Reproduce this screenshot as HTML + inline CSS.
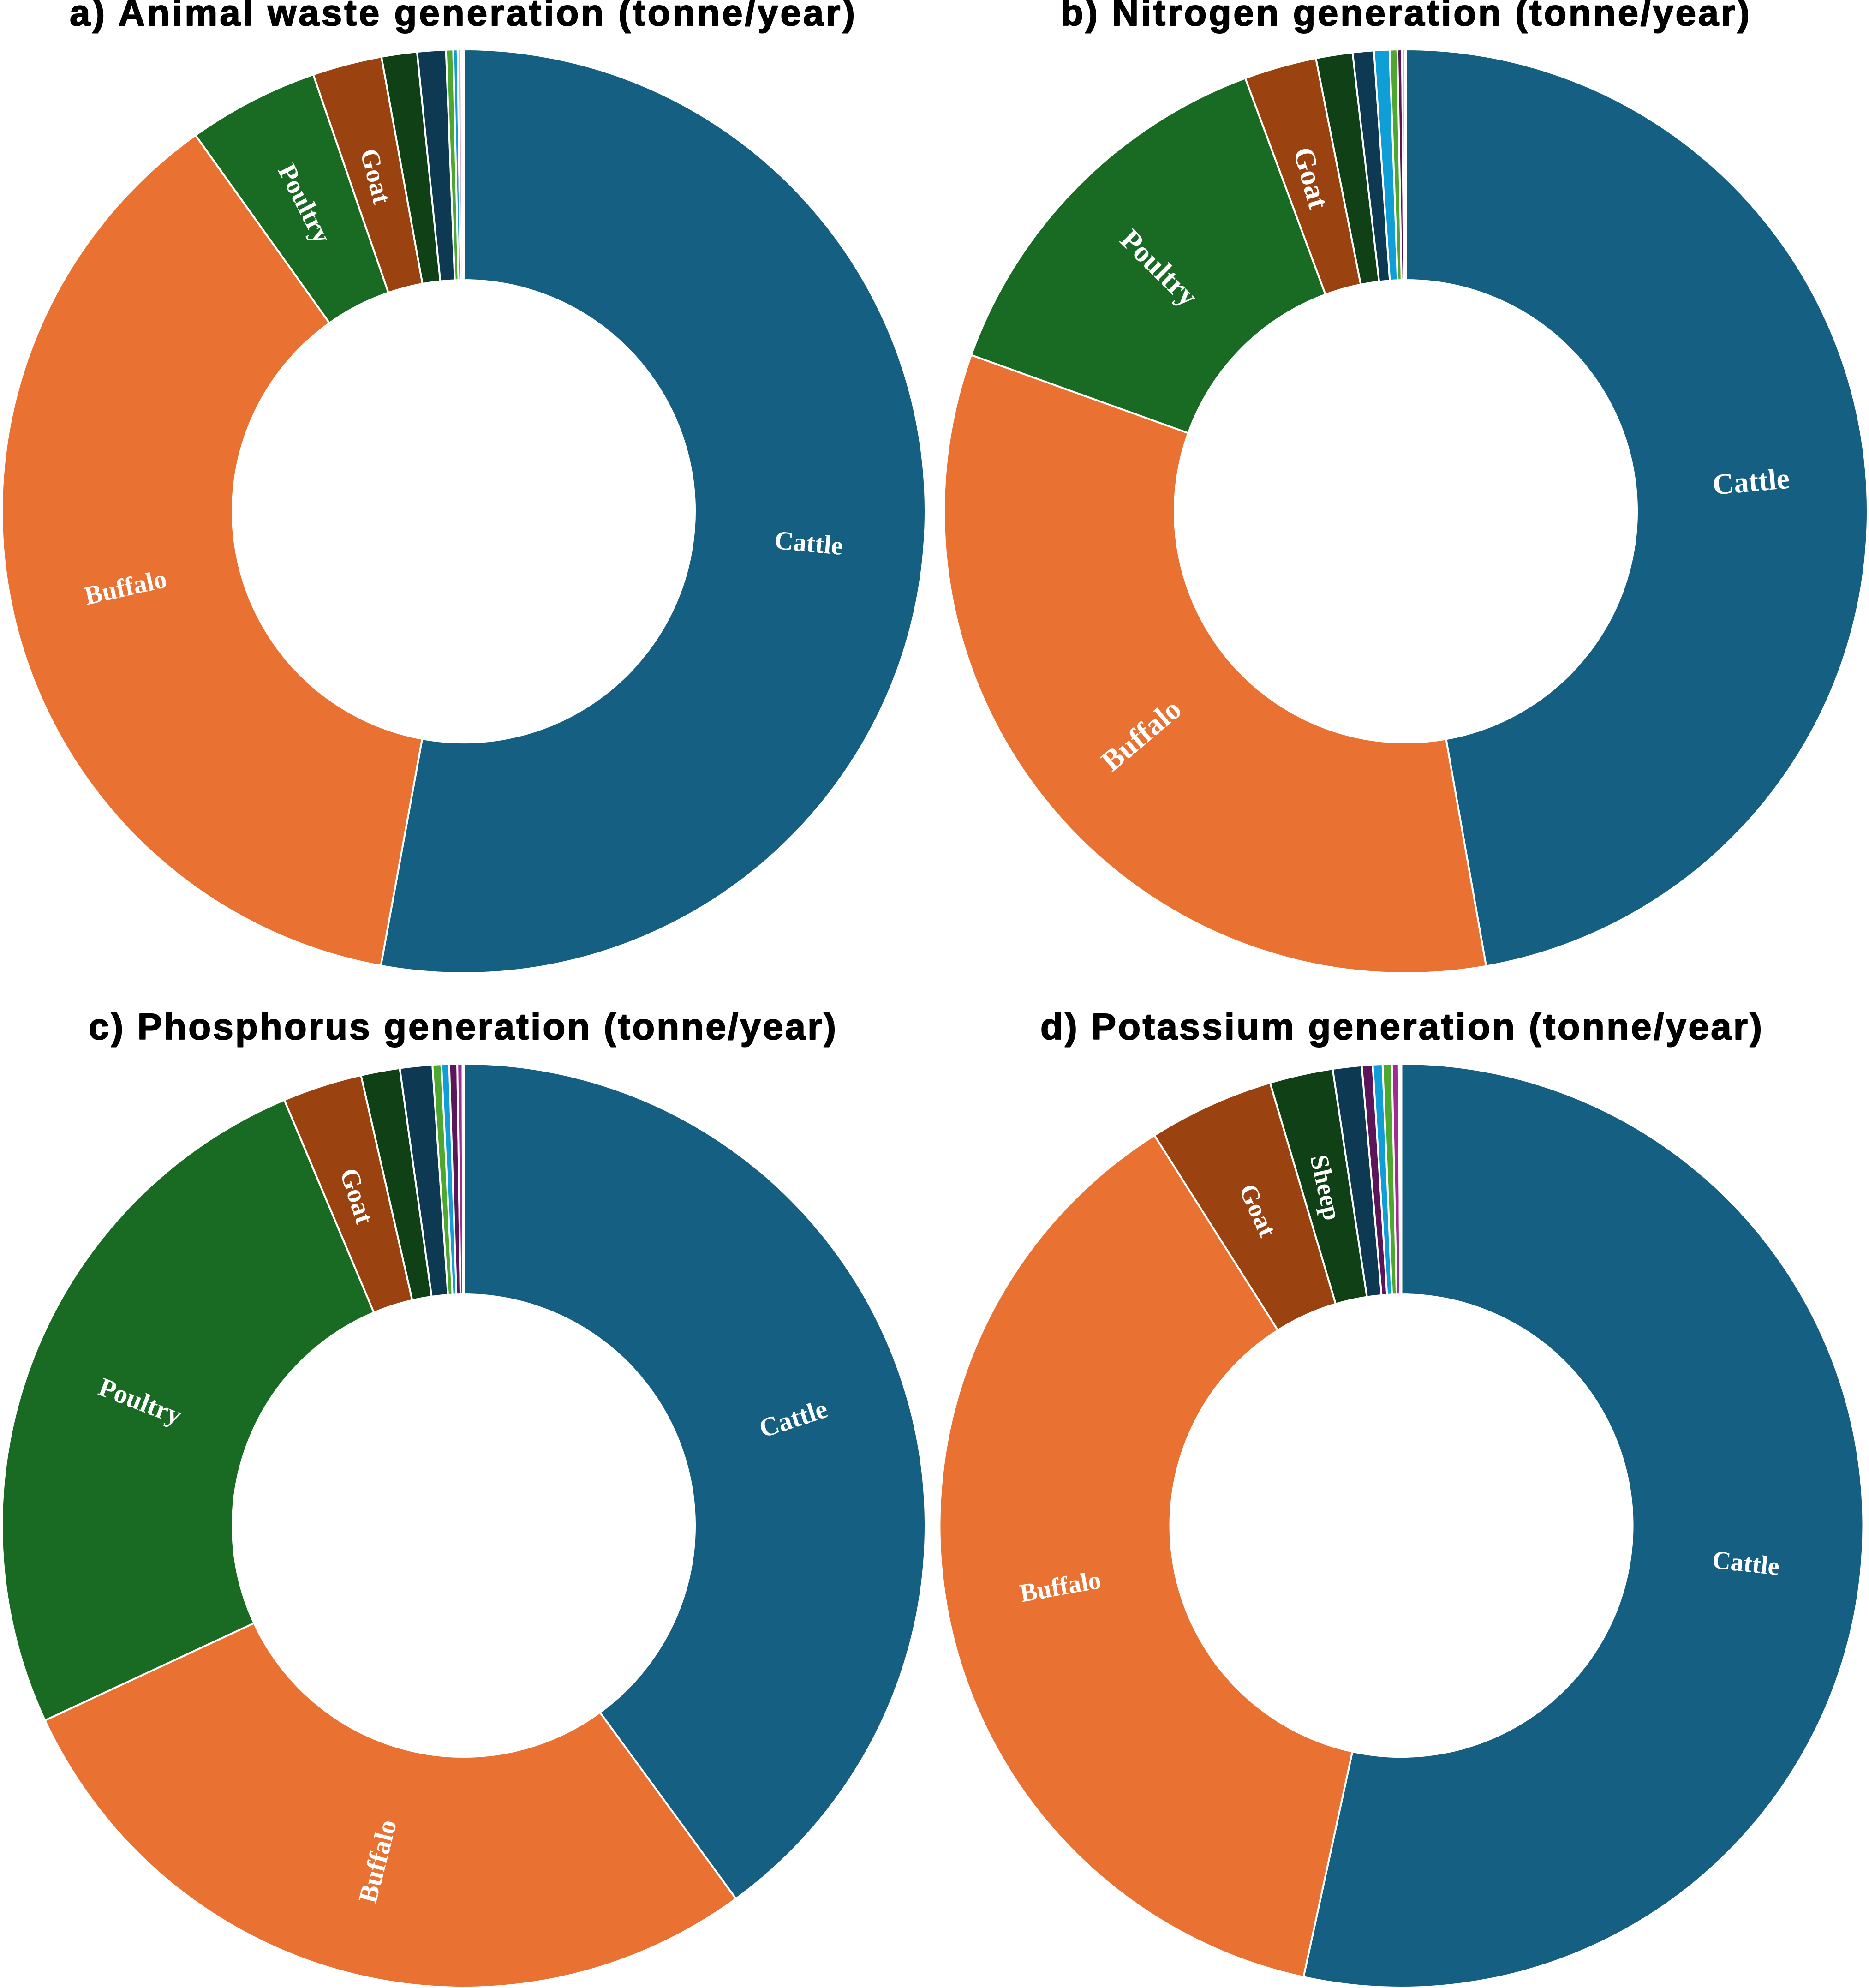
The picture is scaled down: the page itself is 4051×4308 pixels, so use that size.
<!DOCTYPE html>
<html lang="en">
<head>
<meta charset="utf-8">
<title>Livestock waste and nutrient generation</title>
<style>
html,body{margin:0;padding:0;background:#fff;}
body{width:4051px;height:4308px;overflow:hidden;}
svg{display:block;}
.chart-title{font-family:"Liberation Sans",Arial,sans-serif;font-weight:700;font-size:80px;fill:#000;stroke:#000;stroke-width:2px;stroke-linejoin:round;}
.slice-label{font-family:"Liberation Serif","Times New Roman",serif;font-weight:700;fill:#fff;text-anchor:middle;}
</style>
</head>
<body>
<svg id="figure" xmlns="http://www.w3.org/2000/svg" width="4051" height="4308" viewBox="0 0 4051 4308">
  <rect x="0" y="0" width="4051" height="4308" fill="#ffffff"/>
  <text class="chart-title" x="151" y="55" textLength="1702" lengthAdjust="spacing">a) Animal waste generation (tonne/year)</text>
  <text class="chart-title" x="2299" y="55" textLength="1493" lengthAdjust="spacing">b) Nitrogen generation (tonne/year)</text>
  <text class="chart-title" x="192" y="2252" textLength="1620" lengthAdjust="spacing">c) Phosphorus generation (tonne/year)</text>
  <text class="chart-title" x="2255" y="2252" textLength="1564" lengthAdjust="spacing">d) Potassium generation (tonne/year)</text>
</svg>
<script>
// Category order per panel (clockwise from 12 o'clock)
const categoriesA = ["Cattle","Buffalo","Poultry","Goat","Sheep","Pig","Horse","Donkey","Trace","Other"];
const categoriesB = ["Cattle","Buffalo","Poultry","Goat","Sheep","Pig","Donkey","Horse","Camel","Trace","Other"];
const categoriesC = ["Cattle","Buffalo","Poultry","Goat","Sheep","Pig","Horse","Donkey","Camel","Mule","Other"];
const categoriesD = ["Cattle","Buffalo","Goat","Sheep","Pig","Camel","Donkey","Horse","Mule","Other"];

// Share of total (%)
const valuesA = [52.87,37.27,4.58,2.43,1.24,1.00,0.25,0.15,0.13,0.08];
const valuesB = [47.22,33.28,13.86,2.53,1.28,0.74,0.54,0.27,0.16,0.10,0.03];
const valuesC = [39.97,28.11,25.58,2.78,1.36,1.13,0.31,0.27,0.28,0.18,0.04];
const valuesD = [53.40,37.62,4.39,2.21,1.01,0.38,0.34,0.32,0.24,0.09];

// Which slices carry a printed label
const labelledA = ["Cattle","Buffalo","Poultry","Goat"];
const labelledB = ["Cattle","Buffalo","Poultry","Goat"];
const labelledC = ["Cattle","Buffalo","Poultry","Goat"];
const labelledD = ["Cattle","Buffalo","Goat","Sheep"];

const categoryColors = {
  Cattle:"#156082", Buffalo:"#E97132", Poultry:"#196B24", Goat:"#9A4210",
  Sheep:"#104016", Pig:"#0D3A52", Horse:"#4EA72E", Donkey:"#0F9ED5",
  Camel:"#5C1558", Mule:"#A02B93", Trace:"#D9B0D6", Other:"#ffffff"
};

const SVG_NS = "http://www.w3.org/2000/svg";
const figure = document.getElementById("figure");
const OUTER_R = 1001;
const INNER_R = 501;
const LABEL_R = 751;

// Axis function: cumulative value -> angle in degrees clockwise from the top
function angleScale(values){
  const total = values.reduce(function(s,v){return s+v;},0);
  return function(cum){return cum/total*360;};
}
function polar(cx,cy,r,deg){
  const t = deg*Math.PI/180;
  return [cx+r*Math.sin(t), cy-r*Math.cos(t)];
}
function wedgePath(cx,cy,a0,a1){
  const large = (a1-a0)>180?1:0;
  const p0 = polar(cx,cy,OUTER_R,a0), p1 = polar(cx,cy,OUTER_R,a1);
  const p2 = polar(cx,cy,INNER_R,a1), p3 = polar(cx,cy,INNER_R,a0);
  return "M"+p0[0].toFixed(2)+" "+p0[1].toFixed(2)+
    "A"+OUTER_R+" "+OUTER_R+" 0 "+large+" 1 "+p1[0].toFixed(2)+" "+p1[1].toFixed(2)+
    "L"+p2[0].toFixed(2)+" "+p2[1].toFixed(2)+
    "A"+INNER_R+" "+INNER_R+" 0 "+large+" 0 "+p3[0].toFixed(2)+" "+p3[1].toFixed(2)+"Z";
}
function drawDonut(panel,cx,cy,fontSize,categories,values,labelled){
  const scale = angleScale(values);
  const group = document.createElementNS(SVG_NS,"g");
  
  
  figure.appendChild(group);
  let cum = 0;
  const labels = [];
  values.forEach(function(v,i){
    const a0 = scale(cum), a1 = scale(cum+v);
    cum += v;
    const name = categories[i];
    const path = document.createElementNS(SVG_NS,"path");
    path.setAttribute("d",wedgePath(cx,cy,a0,a1));
    path.setAttribute("fill",categoryColors[name]);
    path.setAttribute("stroke","#ffffff");
    path.setAttribute("stroke-width","4");
    path.setAttribute("stroke-linejoin","miter");
    
    
    group.appendChild(path);
    if(labelled.indexOf(name)>=0){
      labels.push({name:name,mid:(a0+a1)/2});
    }
  });
  labels.forEach(function(l){
    const p = polar(cx,cy,LABEL_R,l.mid);
    const rot = l.mid<=180 ? l.mid-90 : l.mid-270;
    const text = document.createElementNS(SVG_NS,"text");
    text.setAttribute("class","slice-label");
    text.setAttribute("font-size",fontSize);
    text.setAttribute("x",p[0].toFixed(2));
    text.setAttribute("y",p[1].toFixed(2));
    text.setAttribute("dy","0.35em");
    text.setAttribute("transform","rotate("+rot.toFixed(2)+" "+p[0].toFixed(2)+" "+p[1].toFixed(2)+")");
    text.textContent = l.name;
    
    
    group.appendChild(text);
  });
}
drawDonut("animal-waste",1005,1108,57,categoriesA,valuesA,labelledA);
drawDonut("nitrogen",3047,1108,64,categoriesB,valuesB,labelledB);
drawDonut("phosphorus",1005,3306,58,categoriesC,valuesC,labelledC);
drawDonut("potassium",3037.5,3306,56,categoriesD,valuesD,labelledD);
</script>
</body>
</html>
